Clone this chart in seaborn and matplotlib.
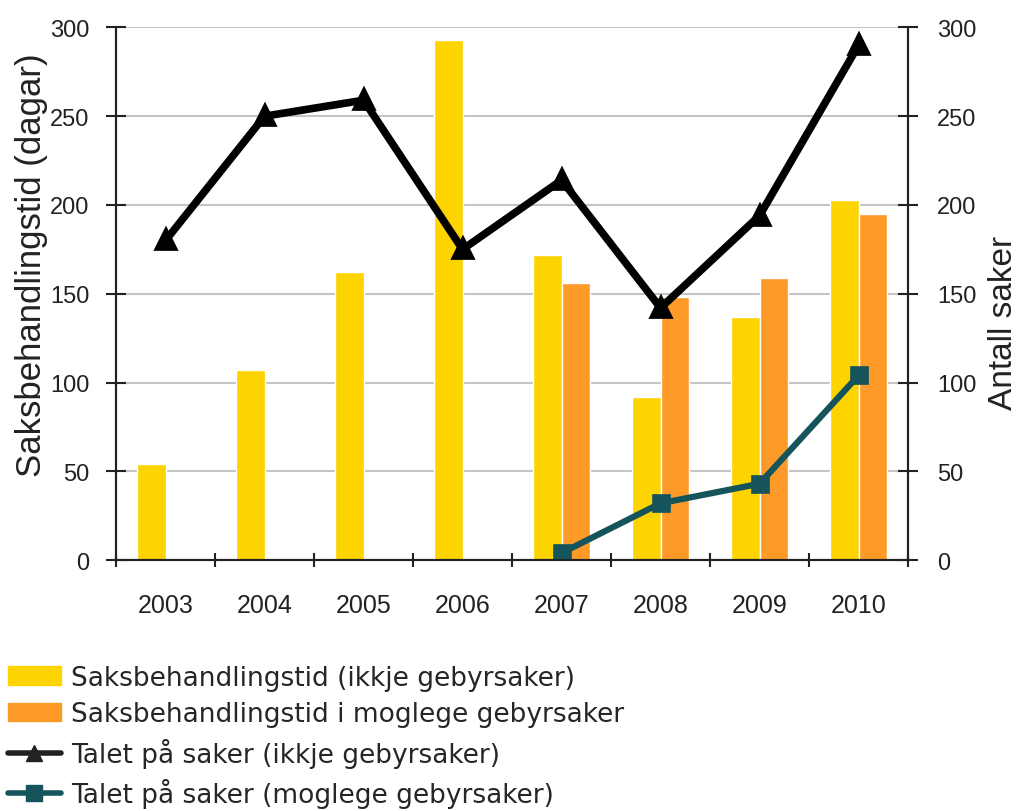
import pandas as pd
import matplotlib.pyplot as plt
import seaborn as sns
from matplotlib.patches import Patch
from matplotlib.lines import Line2D

years = ["2003", "2004", "2005", "2006", "2007", "2008", "2009", "2010"]
tid_ikkje = [54, 107, 162, 293, 172, 92, 137, 203]
tid_moglege = [None, None, None, None, 156, 148, 159, 195]
saker_ikkje = [180, 250, 259, 175, 214, 142, 194, 290]
saker_moglege = [None, None, None, None, 4, 32, 43, 104]

lab_bar1 = "Saksbehandlingstid (ikkje gebyrsaker)"
lab_bar2 = "Saksbehandlingstid i moglege gebyrsaker"
lab_line1 = "Talet på saker (ikkje gebyrsaker)"
lab_line2 = "Talet på saker (moglege gebyrsaker)"

yellow = "#FDD400"
orange = "#FE9A28"
teal = "#15545B"

bars = pd.DataFrame({"year": years * 2,
                     "dagar": tid_ikkje + tid_moglege,
                     "serie": [lab_bar1] * 8 + [lab_bar2] * 8})
lines1 = pd.DataFrame({"year": years, "saker": saker_ikkje})
lines2 = pd.DataFrame({"year": years, "saker": saker_moglege}).dropna()

sns.set_style("white")
plt.rcParams["font.family"] = ["Liberation Sans", "DejaVu Sans"]

fig = plt.figure(figsize=(10.18, 8.12), dpi=100)
ax = fig.add_axes([0.114, 0.309, 0.778, 0.656])

sns.barplot(data=bars, x="year", y="dagar", hue="serie", order=years,
            palette=[yellow, orange], width=0.57, saturation=1,
            ax=ax, legend=False)

ax.set_ylim(0, 300)
ax.set_yticks(range(0, 301, 50))
ax.yaxis.grid(True, color="#c4c4c4", linewidth=1.5)
ax.set_axisbelow(True)
ax.set_xlabel("")
ax.set_ylabel("Saksbehandlingstid (dagar)", fontsize=25, color="#222222")
ax.yaxis.set_label_coords(-0.086, 0.555)

ax2 = ax.twinx()
sns.pointplot(data=lines1, x="year", y="saker", order=years, color="black",
              markers="^", markersize=12, linewidth=5.5, errorbar=None, ax=ax2)
sns.pointplot(data=lines2, x="year", y="saker", order=years, color=teal,
              markers="s", markersize=10, linewidth=4.5, errorbar=None, ax=ax2)
ax2.set_ylim(0, 300)
ax2.set_yticks(range(0, 301, 50))
ax2.set_ylabel("Antall saker", fontsize=24, color="#222222")
ax2.yaxis.set_label_coords(1.101, 0.448)
ax2.set_xlabel("")

for a in (ax, ax2):
    a.set_xlim(-0.5, 7.5)
    a.spines["top"].set_visible(False)
    for s in ["left", "right", "bottom"]:
        a.spines[s].set_color("#222222")
        a.spines[s].set_linewidth(1.5)

ax.set_xticks(range(len(years)))
ax.set_xticklabels(years)
ax.set_xticks([i - 0.5 for i in range(len(years) + 1)], minor=True)
ax.tick_params(axis="x", which="major", length=0, pad=24, labelsize=18, labelcolor="#222222")
ax.tick_params(axis="x", which="minor", direction="inout", length=10, width=1.5, color="#222222", bottom=True)
ax.tick_params(axis="y", direction="inout", length=14, width=1.5, color="#222222",
               labelsize=17, labelcolor="#222222", left=True, pad=12)
ax2.tick_params(axis="y", direction="inout", length=14, width=1.5, color="#222222",
                labelsize=17, labelcolor="#222222", right=True, pad=14)

handles = [Patch(color=yellow), Patch(color=orange),
           Line2D([], [], color="#222222", marker="^", markersize=11, linewidth=4),
           Line2D([], [], color=teal, marker="s", markersize=11, linewidth=4)]
fig.legend(handles, [lab_bar1, lab_bar2, lab_line1, lab_line2],
           loc="upper left", bbox_to_anchor=(0.0, 0.19), frameon=False,
           prop={"family": "DejaVu Sans", "size": 19}, handlelength=2.0,
           handleheight=0.7, labelspacing=0.4, handletextpad=0.4,
           borderaxespad=0.2, borderpad=0.1)

fig.savefig("out.png", dpi=100)
